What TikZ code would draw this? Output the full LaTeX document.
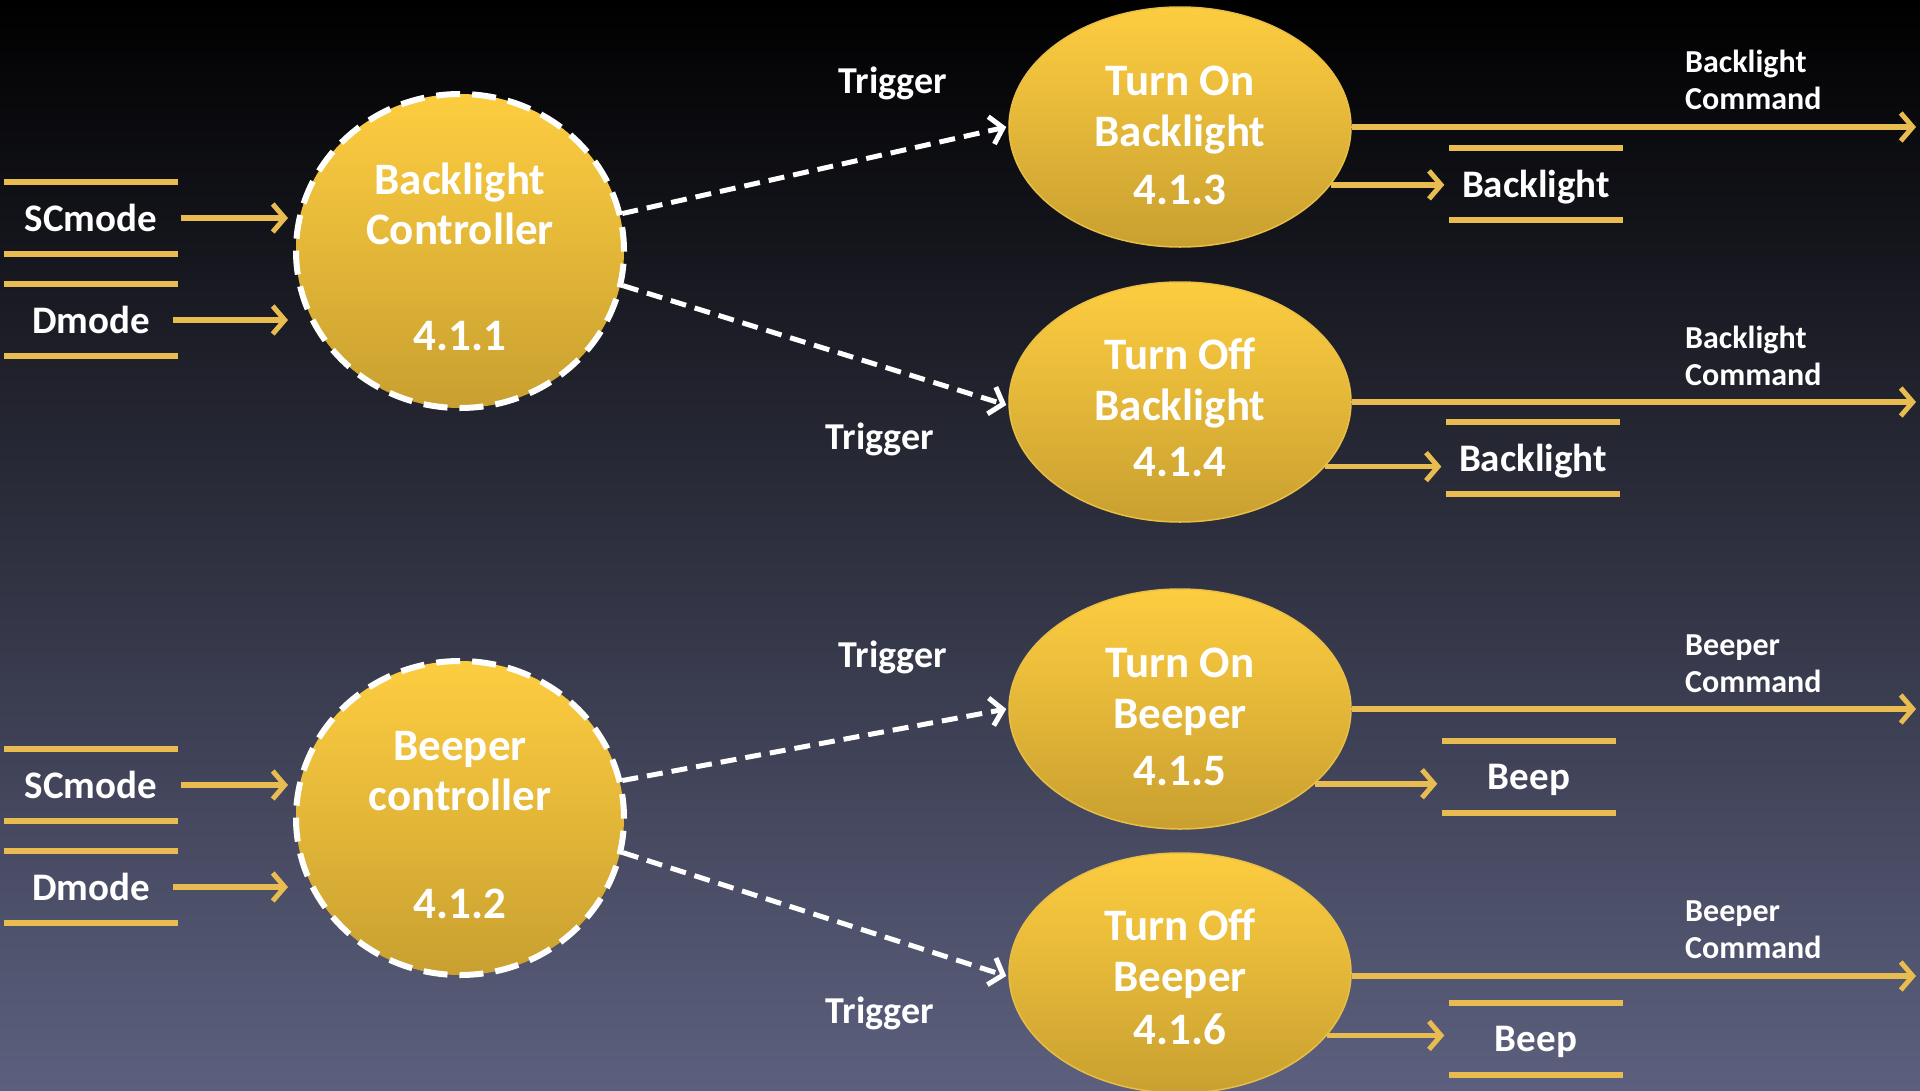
\documentclass[tikz,border=0pt]{standalone}
\usepackage{fontspec}
\setmainfont{Carlito}
\usetikzlibrary{shapes.geometric,arrows.meta}
\definecolor{bgmid}{RGB}{36,34,60}
\definecolor{bgbot}{RGB}{92,96,126}
\definecolor{ytop}{RGB}{253,205,64}
\definecolor{ybot}{RGB}{201,160,48}
\definecolor{yedge}{RGB}{232,190,70}
\definecolor{ycol}{RGB}{232,188,80}
\tikzset{
  proc/.style={ellipse, minimum width=342pt, minimum height=240pt, inner sep=0pt,
    top color=ytop, bottom color=ybot, draw=yedge, line width=1.5pt},
  ctrl/.style={ellipse, minimum width=328pt, minimum height=314pt, inner sep=0pt,
    top color=ytop, bottom color=ybot, draw=white, line width=6pt,
    dash pattern=on 24pt off 12pt},
  ptxt/.style={text=white, inner sep=0pt, font=\bfseries\fontsize{45}{50}\selectfont},
  lbl/.style={text=white, inner sep=0pt, font=\bfseries\fontsize{38}{44}\selectfont},
  cmd/.style={text=white, inner sep=0pt, align=left, anchor=west,
    font=\bfseries\fontsize{32}{37}\selectfont},
  store/.style={minimum width=173pt, minimum height=71pt, inner sep=0pt, text=white,
    font=\bfseries\fontsize{39}{44}\selectfont},
  sline/.style={draw=ycol, line width=6pt},
  flow/.style={draw=ycol, line width=5.5pt,
    -{Straight Barb[length=12pt,width=28pt,line width=5pt]}},
  trig/.style={draw=white, line width=5pt, dash pattern=on 16pt off 9pt,
    -{Straight Barb[length=12pt,width=28pt,line width=5pt]}}
}
\begin{document}
\begin{tikzpicture}[x=1pt,y=-1pt]
\useasboundingbox (0,0) rectangle (1920,1090);
\shade[top color=black, middle color=bgmid, bottom color=bgbot] (0,0) rectangle (1920,1090);

% controllers
\node[ctrl] (bc) at (460,251) {};
\node[ptxt] (bc1) at (460,183) {Backlight};
\node[ptxt] (bc2) at (460,229) {Controller};
\node[ptxt] (bc3) at (460,336) {4.1.1};

\node[ctrl] (pc) at (460,818) {};
\node[ptxt] (pc1) at (460,749) {Beeper};
\node[ptxt] (pc2) at (460,795) {controller};
\node[ptxt] (pc3) at (460,904) {4.1.2};

% processes
\node[proc] (tob) at (1180,127) {};
\node[ptxt] (tob1) at (1180,81) {Turn On};
\node[ptxt] (tob2) at (1180,135) {Backlight};
\node[ptxt] (tob3) at (1180,190) {4.1.3};

\node[proc] (tfb) at (1180,402) {};
\node[ptxt] (tfb1) at (1180,354) {Turn Off};
\node[ptxt] (tfb2) at (1180,409) {Backlight};
\node[ptxt] (tfb3) at (1180,462) {4.1.4};

\node[proc] (top) at (1180,709) {};
\node[ptxt] (top1) at (1180,663) {Turn On};
\node[ptxt] (top2) at (1180,717) {Beeper};
\node[ptxt] (top3) at (1180,771) {4.1.5};

\node[proc] (tfp) at (1180,973) {};
\node[ptxt] (tfp1) at (1180,925) {Turn Off};
\node[ptxt] (tfp2) at (1180,980) {Beeper};
\node[ptxt] (tfp3) at (1180,1029) {4.1.6};

% left stores
\node[store] (s1) at (91,218) {SCmode};
\node[store] (s2) at (91,320) {Dmode};
\node[store] (s3) at (91,785) {SCmode};
\node[store] (s4) at (91,887) {Dmode};
\foreach \s in {s1,s2,s3,s4}{
  \draw[sline] (\s.north west) -- (\s.north east);
  \draw[sline] (\s.south west) -- (\s.south east);
}
\draw[flow] ([xshift=3pt]s1.east) -- ([xshift=-5pt]s1.east -| bc.west);
\draw[flow] ([xshift=-5pt]s2.east) -- ([xshift=-5pt]s2.east -| bc.west);
\draw[flow] ([xshift=3pt]s3.east) -- ([xshift=-5pt]s3.east -| pc.west);
\draw[flow] ([xshift=-5pt]s4.east) -- ([xshift=-5pt]s4.east -| pc.west);

% triggers
\draw[trig] (bc.13) -- ([xshift=-2pt]tob.west);
\draw[trig] (bc.-12) -- ([xshift=-2pt,yshift=-3pt]tfb.west);
\draw[trig] (pc.13) -- ([xshift=-2pt]top.west);
\draw[trig] (pc.-12) -- ([xshift=-2pt,yshift=-3pt]tfp.west);
\node[lbl] (t1) at (893,83) {Trigger};
\node[lbl] (t2) at (880,439) {Trigger};
\node[lbl] (t3) at (893,657) {Trigger};
\node[lbl] (t4) at (880,1013) {Trigger};

% command outputs
\coordinate (c1) at (1916,127);
\coordinate (c2) at (1916,402);
\coordinate (c3) at (1916,709);
\coordinate (c4) at (1916,976);
\draw[flow] (tob.east) -- (c1);
\draw[flow] (tfb.east) -- (c2);
\draw[flow] (top.east) -- (c3);
\draw[flow] (tfp.east |- c4) -- (c4);
\node[cmd] (l1) at (1685,80) {Backlight\\Command};
\node[cmd] (l2) at (1685,356) {Backlight\\Command};
\node[cmd] (l3) at (1685,664) {Beeper\\Command};
\node[cmd] (l4) at (1685,930) {Beeper\\Command};

% right stores
\node[store, text depth=0pt] (r1) at (1536,184) {Backlight};
\node[store, text depth=0pt] (r2) at (1533,458) {Backlight};
\node[store, text depth=0pt] (r3) at (1529,777) {Beep};
\node[store, text depth=0pt] (r4) at (1536,1039) {Beep};
\foreach \s in {r1,r2,r3,r4}{
  \draw[sline] (\s.north west) -- (\s.north east);
  \draw[sline] (\s.south west) -- (\s.south east);
}
\draw[flow] (tob.-21) -- ([xshift=-5pt]tob.-21 -| r1.west);
\draw[flow] (tfb.-24) -- ([xshift=-5pt]tfb.-24 -| r2.west);
\draw[flow] (top.-29) -- ([xshift=-5pt]top.-29 -| r3.west);
\draw[flow] (tfp.-23) -- ([xshift=-5pt]tfp.-23 -| r4.west);
\end{tikzpicture}
\end{document}
